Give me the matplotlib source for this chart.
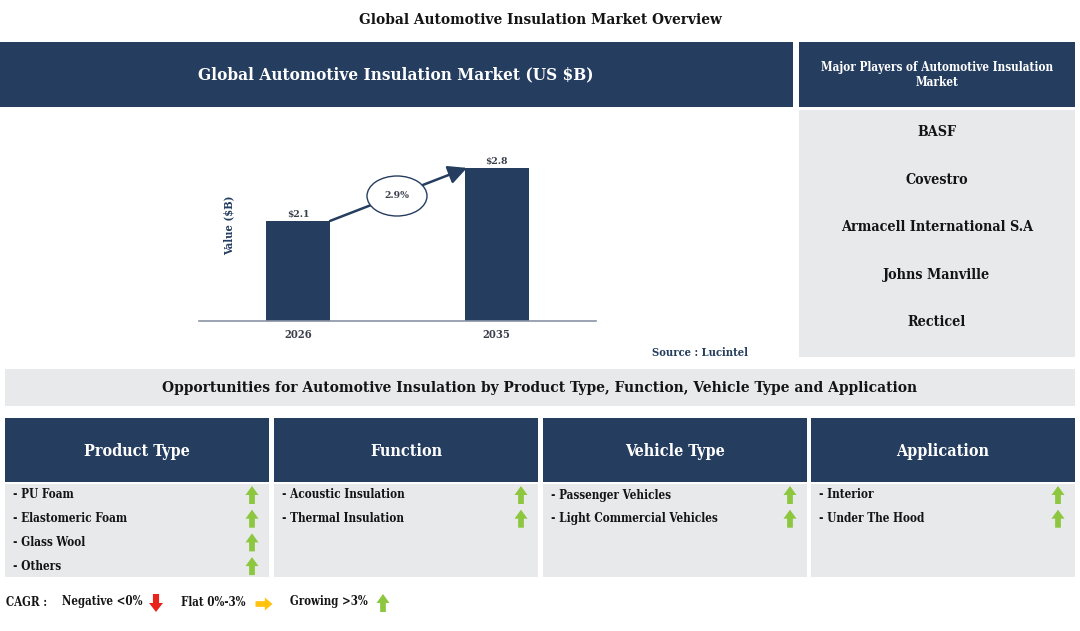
import matplotlib
matplotlib.use("Agg")
import matplotlib.pyplot as plt
from matplotlib.patches import Rectangle, Ellipse, Polygon, FancyArrowPatch

# ---------------- data ----------------
years = ["2026", "2035"]
values = [2.1, 2.8]
value_labels = ["$2.1", "$2.8"]
cagr_label = "2.9%"
players = ["BASF", "Covestro", "Armacell International S.A", "Johns Manville", "Recticel"]
segment_titles = ["Product Type", "Function", "Vehicle Type", "Application"]
segment_items = [
    ["PU Foam", "Elastomeric Foam", "Glass Wool", "Others"],
    ["Acoustic Insulation", "Thermal Insulation"],
    ["Passenger Vehicles", "Light Commercial Vehicles"],
    ["Interior", "Under The Hood"],
]
segment_trends = [
    ["up", "up", "up", "up"],
    ["up", "up"],
    ["up", "up"],
    ["up", "up"],
]

NAVY = "#253D5F"
GRAY = "#E8E9EB"
GREEN = "#8DC63F"
RED = "#E8231E"
ORANGE = "#FFC20E"
FONT = "DejaVu Serif"
DARK = "#141414"

W, H = 1080, 631
fig = plt.figure(figsize=(W / 100, H / 100), dpi=100)
bg = fig.add_axes([0, 0, 1, 1])
bg.set_xlim(0, W)
bg.set_ylim(H, 0)
bg.axis("off")

def txt(x, y, s, size=9, color=DARK, ha="center", weight="bold", ax_=None, **kw):
    a = ax_ if ax_ is not None else bg
    a.text(x, y, s, fontsize=size, color=color, ha=ha, va="center",
           fontweight=weight, family=FONT, stretch="condensed",
           transform=bg.transData, **kw)

def up_arrow(cx, cy, color=GREEN, w=13, h=18):
    hw = w / 2
    sw = w * 0.22
    top = cy - h / 2
    bot = cy + h / 2
    neck = top + h * 0.5
    pts = [(cx, top), (cx + hw, neck), (cx + sw, neck), (cx + sw, bot),
           (cx - sw, bot), (cx - sw, neck), (cx - hw, neck)]
    bg.add_patch(Polygon(pts, closed=True, color=color, lw=0))

def down_arrow(cx, cy, color=RED, w=14, h=18):
    hw = w / 2
    sw = w * 0.22
    top = cy - h / 2
    bot = cy + h / 2
    neck = bot - h * 0.5
    pts = [(cx, bot), (cx + hw, neck), (cx + sw, neck), (cx + sw, top),
           (cx - sw, top), (cx - sw, neck), (cx - hw, neck)]
    bg.add_patch(Polygon(pts, closed=True, color=color, lw=0))

def right_arrow(cx, cy, color=ORANGE, w=17, h=13):
    hh = h / 2
    sh = h * 0.22
    left = cx - w / 2
    right = cx + w / 2
    neck = right - w * 0.45
    pts = [(right, cy), (neck, cy - hh), (neck, cy - sh), (left, cy - sh),
           (left, cy + sh), (neck, cy + sh), (neck, cy + hh)]
    bg.add_patch(Polygon(pts, closed=True, color=color, lw=0))

# title
txt(540, 20, "Global Automotive Insulation Market Overview", size=11)

# left header
bg.add_patch(Rectangle((0, 42), 793, 65, color=NAVY, lw=0))
txt(396, 75, "Global Automotive Insulation Market (US $B)", size=12.3, color="white")

# right header + players panel
bg.add_patch(Rectangle((799, 42), 276, 65, color=NAVY, lw=0))
txt(937, 75, "Major Players of Automotive Insulation\nMarket", size=8.5, color="white",
    linespacing=1.15)
bg.add_patch(Rectangle((799, 110), 276, 247, color=GRAY, lw=0))
for i, p in enumerate(players):
    txt(937, 132 + i * 47.5, p, size=10.3)

# source
txt(748, 352, "Source : Lucintel", size=8, color=NAVY, ha="right")

# opportunities band
bg.add_patch(Rectangle((5, 369), 1070, 37, color=GRAY, lw=0))
txt(540, 388, "Opportunities for Automotive Insulation by Product Type, Function, Vehicle Type and Application",
    size=11.1)

# segment columns
col_x = [5, 274, 543, 811]
col_w = 264
for j, (title, items, trends) in enumerate(zip(segment_titles, segment_items, segment_trends)):
    x0 = col_x[j]
    bg.add_patch(Rectangle((x0, 418), col_w, 64, color=NAVY, lw=0))
    txt(x0 + col_w / 2, 451, title, size=11.5, color="white")
    bg.add_patch(Rectangle((x0, 484), col_w, 93, color=GRAY, lw=0))
    for i, (it, tr) in enumerate(zip(items, trends)):
        y = 495 + i * 23.7
        txt(x0 + 8, y, "- " + it, size=8.5, ha="left")
        if tr == "up":
            up_arrow(x0 + 247, y)
        elif tr == "down":
            down_arrow(x0 + 247, y)
        else:
            right_arrow(x0 + 247, y)

# legend
txt(6, 603, "CAGR :", size=8.3, ha="left")
txt(62, 602, "Negative <0%", size=8.3, ha="left")
down_arrow(156, 603)
txt(181, 603, "Flat 0%-3%", size=8.3, ha="left")
right_arrow(264, 604)
txt(290, 602, "Growing >3%", size=8.3, ha="left")
up_arrow(383, 603)

# ---------------- bar chart ----------------
ax_l, ax_r, ax_t, ax_b = 199, 596, 130, 321
ax = fig.add_axes([ax_l / W, 1 - ax_b / H, (ax_r - ax_l) / W, (ax_b - ax_t) / H])
ax.patch.set_alpha(0)
xpos = [0, 1]
bar_w = 0.32
ax.bar(xpos, values, width=bar_w, color=NAVY, zorder=2)
ax.set_xlim(-0.5, 1.5)
ax.set_ylim(0.78, 0.78 + (ax_b - ax_t) / 75.8)
for s in ["top", "right", "left"]:
    ax.spines[s].set_visible(False)
ax.spines["bottom"].set_color("#8A94A6")
ax.spines["bottom"].set_linewidth(1.2)
ax.set_yticks([])
ax.set_xticks(xpos)
ax.set_xticklabels(years, fontsize=8, fontweight="bold", color="#3A3F4A", family=FONT,
                   stretch="condensed")
ax.tick_params(axis="x", length=0, pad=6)
ax.set_ylabel("Value ($B)", fontsize=8, fontweight="bold", color=NAVY, family=FONT,
              stretch="condensed")
ax.yaxis.set_label_coords(0.088, 0.5)
for x, v, lab in zip(xpos, values, value_labels):
    ax.text(x, v + 0.02, lab, ha="center", va="bottom", fontsize=7.5, fontweight="bold",
            color="#3A3F4A", family=FONT, stretch="condensed")

# CAGR arrow
arr = FancyArrowPatch((xpos[0] + bar_w / 2, values[0]), (xpos[1] - bar_w / 2 + 0.01, values[1]),
                      arrowstyle="-|>,head_length=7,head_width=3.5", mutation_scale=1.6,
                      color=NAVY, lw=1.8, zorder=3, shrinkA=0, shrinkB=0)
ax.add_patch(arr)
ax.add_patch(Ellipse((397, 196), 60, 40, facecolor="white", edgecolor=NAVY, lw=1, zorder=5,
                     transform=bg.transData, clip_on=False))
txt(397, 196, cagr_label, size=7.5, color="#3A3F4A", ax_=ax, zorder=6, clip_on=False)

fig.savefig("out.png", dpi=100)
